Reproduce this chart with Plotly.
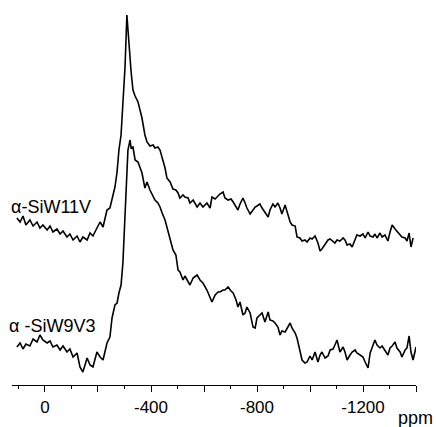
import plotly.graph_objects as go

# chemical shift grid (ppm), shared by both spectra
ppm = [106, 94, 83, 72, 57, 45, 30, 19, 8, -8, -19, -30, -45, -57, -68, -83, -94, -106,
       -121, -132, -143, -159, -170, -181, -196, -208, -219, -234, -245, -253, -264, -272,
       -279, -287, -294, -302, -309, -313, -321, -325, -332, -340, -351, -359, -366, -377,
       -385, -396, -408, -415, -426, -434, -442, -453, -460, -472, -483, -494, -502, -509,
       -521, -528, -540, -547, -559, -574, -585, -596, -611, -623, -630, -642, -653, -660,
       -672, -679, -691, -702, -710, -721, -728, -736, -747, -755, -762, -774, -785, -793,
       -800, -811, -819, -830, -842, -849, -860, -868, -879, -887, -894, -906, -917, -925,
       -932, -944, -951, -962, -970, -981, -989, -1000, -1008, -1019, -1030, -1038, -1045,
       -1057, -1068, -1076, -1087, -1094, -1102, -1113, -1125, -1132, -1140, -1151, -1159,
       -1170, -1177, -1189, -1200, -1208, -1219, -1227, -1238, -1245, -1253, -1264, -1272,
       -1283, -1294, -1302, -1310, -1321, -1328, -1340, -1347, -1359, -1366, -1374, -1381,
       -1389, -1400]

# alpha-SiW11V spectrum (offset intensity)
siw11v = [167, 163, 169, 160, 165, 159, 163, 157, 160, 155, 159, 153, 156, 151, 154, 148, 151, 145,
          149, 143, 148, 145, 152, 149, 157, 163, 158, 175, 177, 187, 198, 213,
          235, 250, 280, 318, 370, 355, 330, 313, 295, 289, 283, 275, 267, 250,
          243, 239, 240, 237, 238, 235, 228, 217, 207, 203, 196, 195, 192, 187,
          190, 188, 187, 182, 185, 178, 182, 178, 182, 177, 188, 186, 189, 191,
          193, 187, 185, 186, 183, 178, 175, 181, 187, 182, 177, 171, 175, 178,
          179, 181, 177, 173, 168, 175, 181, 178, 182, 177, 171, 180, 170, 163,
          160, 159, 148, 147, 144, 145, 143, 147, 146, 149, 142, 134, 136,
          141, 145, 146, 144, 142, 145, 144, 147, 145, 140, 141, 138,
          145, 150, 149, 151, 147, 153, 149, 148, 151, 147, 152, 148,
          150, 144, 153, 160, 156, 154, 151, 148, 147, 144, 152, 138,
          147, None]

# alpha-SiW9V3 spectrum
siw9v3 = [38, 42, 36, 41, 39, 46, 43, 50, 45, 42, 44, 38, 40, 35, 39, 33, 36, 28,
          32, 18, 13, 27, 20, 18, 33, 28, 25, 42, 48, 67, 80, 82,
          92, 100, 122, 170, 222, 235, 245, 237, 238, 225, 223, 217, 212, 197,
          203, 195, 188, 185, 182, 178, 172, 165, 158, 145, 135, 130, 115, 113,
          105, 109, 103, 100, 107, 110, 105, 102, 95, 87, 83, 90, 93, 93,
          95, 95, 98, 94, 92, 85, 78, 83, 70, 72, 78, 72, 58, 57,
          67, 70, 72, 63, 73, 65, 64, 62, 58, 50, 54, 53, 58, 62,
          57, 52, 47, 35, 25, 22, 23, 29, 25, 33, 23, 30, 33,
          27, 29, 35, 36, 40, 45, 33, 38, 33, 25, 30, 33,
          35, 32, 30, 28, 23, 17, 32, 40, 45, 40, 37, 39,
          35, 30, 37, 39, 43, 37, 33, 28, 35, 37, 49, 33,
          25, 38]

label_top = "\u03b1-SiW11V"
label_bottom = "\u03b1 -SiW9V3"
tick_vals = [0, -200, -400, -600, -800, -1000, -1200, -1400]
tick_text = ["0", "", "-400", "", "-800", "", "-1200", ""]

FONT = "Liberation Sans, Arial, Helvetica, sans-serif"

fig = go.Figure()
fig.add_trace(go.Scatter(x=ppm, y=siw11v, mode="lines",
                         line=dict(color="black", width=1.6), showlegend=False))
fig.add_trace(go.Scatter(x=ppm, y=siw9v3, mode="lines",
                         line=dict(color="black", width=1.6), showlegend=False))

fig.add_annotation(x=0, y=0.468, xref="paper", yref="paper", text=label_top,
                   showarrow=False, xanchor="left", yanchor="middle", xshift=-3,
                   font=dict(family=FONT, size=18, color="black"))
fig.add_annotation(x=0, y=0.155, xref="paper", yref="paper", text=label_bottom,
                   showarrow=False, xanchor="left", yanchor="middle", xshift=-5,
                   font=dict(family=FONT, size=18, color="black"))
fig.add_annotation(x=1.0, y=-0.054, xref="paper", yref="paper", text="ppm",
                   showarrow=False, xanchor="center", yanchor="top", xshift=-1,
                   font=dict(family=FONT, size=18, color="black"))

fig.update_layout(
    width=436, height=427,
    margin=dict(l=12, r=20, t=5, b=42),
    paper_bgcolor="white", plot_bgcolor="white",
    font=dict(family=FONT, color="black"),
    xaxis=dict(range=[124.5, -1400], showgrid=False, zeroline=False,
               showline=True, linecolor="black", linewidth=1.2,
               tickmode="array", tickvals=tick_vals, ticktext=tick_text,
               ticks="outside", ticklen=6, tickwidth=1.2, tickcolor="black",
               tickfont=dict(family=FONT, size=17, color="black"),
               minor=dict(tick0=0, dtick=100, ticks="outside", ticklen=3,
                          tickwidth=1.2, tickcolor="black")),
    yaxis=dict(range=[0, 380], visible=False, showgrid=False, zeroline=False),
)

fig.write_html("out.html", config={"displayModeBar": False},
               post_script="document.body.style.margin='0';document.body.style.overflow='hidden';")
